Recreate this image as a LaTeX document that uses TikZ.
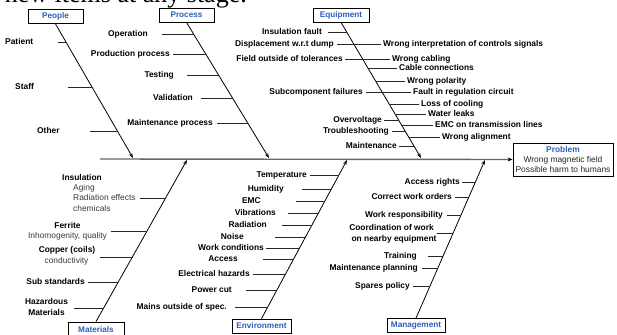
\documentclass[tikz,border=0pt]{standalone}
\usepackage{fontspec}
\setmainfont{Liberation Sans}
\newfontfamily\serifx{Liberation Serif}
\usetikzlibrary{arrows.meta,calc}
\definecolor{hdblue}{RGB}{45,95,185}
\definecolor{subgray}{RGB}{60,60,60}
\tikzset{
  lab/.style={font=\fontsize{8.4}{9.6}\selectfont\bfseries, inner sep=0pt, text=black},
  sub/.style={font=\fontsize{8.4}{10.5}\selectfont, inner sep=0pt, text=subgray},
  hdbox/.style={draw=black, line width=0.8pt, font=\fontsize{8.2}{9}\selectfont\bfseries, text=hdblue, minimum height=14pt, inner sep=0pt},
  branch/.style={draw=black, line width=0.8pt, -{Stealth[length=5pt,width=3.5pt]}},
  tick/.style={draw=black!85, line width=0.8pt},
  spine/.style={draw=black!60, line width=1.4pt, -{Stealth[length=5pt,width=4pt,color=black]}}
}
% x position of each branch line at height y
\newcommand\bPe[1]{(55.5+(#1-24)*77.5/134)}
\newcommand\bPr[1]{(186.5+(#1-22)*82.5/136)}
\newcommand\bEq[1]{(341+(#1-22)*80/136)}
\newcommand\bMa[1]{(96+(322-#1)*91/162)}
\newcommand\bEn[1]{(261.5+(319-#1)*85.5/159)}
\newcommand\bMg[1]{(416+(319-#1)*69/159)}
% cause: name, anchor, x, y, text, tick free end x, branch
\newcommand\cz[7]{%
  \node[lab,anchor=#2] (#1) at (#3,#4) {#5};
  \coordinate (#1s) at (#6,#4);
  \coordinate (#1e) at ({#7{#4}},#4);
  \draw[tick] (#1s) -- (#1e);}
\begin{document}
\begin{tikzpicture}[x=1pt,y=-1pt]
\useasboundingbox (0,0) rectangle (617,334);
\fill[white] (0,0) rectangle (617,334);
\clip (0,0) rectangle (617,334);

\node[font=\serifx\fontsize{26}{26}\selectfont, anchor=base east, inner sep=0pt] (toptext) at (247,2.5) {new items at any stage.};

% category boxes
\node[hdbox, minimum width=55pt] (people) at (55.5,16.5) {People};
\node[hdbox, minimum width=55pt] (process) at (186.5,15) {Process};
\node[hdbox, minimum width=56pt] (equipment) at (341,15) {Equipment};
\node[hdbox, minimum width=56pt, minimum height=15pt] (materials) at (96,329.5) {Materials};
\node[hdbox, minimum width=59pt] (environment) at (261.5,326) {Environment};
\node[hdbox, minimum width=58pt] (management) at (416,325.5) {Management};

\node[draw=black, line width=0.8pt, minimum width=100pt, minimum height=33pt, inner sep=0pt, align=center,
      font=\fontsize{8.4}{10.2}\selectfont, text=black!85] (problem) at (563,159.5)
  {{\bfseries\color{hdblue}Problem}\\Wrong magnetic field\\Possible harm to humans};

% spine
\coordinate (sp0) at (100,159);
\draw[spine] (sp0) -- (problem.west);

% branch tips
\coordinate (tPe) at (133,158);
\coordinate (tPr) at (269,158);
\coordinate (tEq) at (421,158);
\coordinate (tMa) at (187,160);
\coordinate (tEn) at (347,160);
\coordinate (tMg) at (485,160);
\draw[branch] (people.south) -- (tPe);
\draw[branch] (process.south) -- (tPr);
\draw[branch] (equipment.south) -- (tEq);
\draw[branch] (materials.north) -- (tMa);
\draw[branch] (environment.north) -- (tEn);
\draw[branch] (management.north) -- (tMg);

% People
\cz{patient}{mid west}{5}{42}{Patient}{58}{\bPe}
\cz{staff}{mid west}{15}{87}{Staff}{68}{\bPe}
\cz{other}{mid west}{37}{131}{Other}{90}{\bPe}

% Process
\cz{operation}{mid east}{148}{34}{Operation}{162}{\bPr}
\cz{production}{mid east}{170}{54}{Production process}{173}{\bPr}
\cz{testing}{mid east}{174}{75}{Testing}{187}{\bPr}
\cz{validation}{mid east}{193}{98}{Validation}{201}{\bPr}
\cz{maintproc}{mid east}{213}{123}{Maintenance process}{217}{\bPr}

% Equipment
\cz{insfault}{mid east}{322}{32}{Insulation fault}{328}{\bEq}
\node[lab,anchor=mid east] (displ) at (334,44) {Displacement w.r.t dump};
\node[lab,anchor=mid west] (wronginterp) at (383,44) {Wrong interpretation of controls signals};
\coordinate (displs) at (337,44); \coordinate (displt) at (381,44);
\draw[tick] (displs) -- (displt);
\node[lab,anchor=mid east] (fieldout) at (343,59) {Field outside of tolerances};
\node[lab,anchor=mid west] (wrongcab) at (392,59) {Wrong cabling};
\coordinate (fields) at (345,59); \coordinate (fieldt) at (390,59);
\draw[tick] (fields) -- (fieldt);
\cz{cableconn}{mid west}{399}{68}{Cable connections}{397}{\bEq}
\cz{wrongpol}{mid west}{407}{81}{Wrong polarity}{405}{\bEq}
\node[lab,anchor=mid east] (subcomp) at (363,92) {Subcomponent failures};
\node[lab,anchor=mid west] (faultreg) at (413,92) {Fault in regulation circuit};
\coordinate (subs) at (366,92); \coordinate (subt) at (411,92);
\draw[tick] (subs) -- (subt);
\cz{losscool}{mid west}{421}{104}{Loss of cooling}{419}{\bEq}
\cz{waterleak}{mid west}{428}{114}{Water leaks}{426}{\bEq}
\cz{overvolt}{mid east}{382}{120}{Overvoltage}{384}{\bEq}
\cz{emctl}{mid west}{435}{125}{EMC on transmission lines}{433}{\bEq}
\cz{trouble}{mid east}{389}{131}{Troubleshooting}{392}{\bEq}
\cz{wrongalign}{mid west}{442}{137}{Wrong alignment}{440}{\bEq}
\cz{maint}{mid east}{397}{146}{Maintenance}{399}{\bEq}

% Materials
\node[lab,anchor=mid] (insul) at (82,178) {Insulation};
\node[sub,anchor=mid west] (aging) at (73,188) {Aging};
\node[sub,anchor=mid west] (radeff) at (73,198) {Radiation effects};
\node[sub,anchor=mid west] (chem) at (73,209) {chemicals};
\coordinate (insuls) at (140,198); \coordinate (insule) at ({\bMa{198}},198);
\draw[tick] (insuls) -- (insule);
\node[lab,anchor=mid] (ferrite) at (67.5,226) {Ferrite};
\node[sub,anchor=mid] (inhom) at (67.5,236) {Inhomogenity, quality};
\coordinate (ferrs) at (111,231); \coordinate (ferre) at ({\bMa{231}},231);
\draw[tick] (ferrs) -- (ferre);
\node[lab,anchor=mid] (copper) at (67,250) {Copper (coils)};
\node[sub,anchor=mid] (conduct) at (66.5,261) {conductivity};
\coordinate (cops) at (100,257); \coordinate (cope) at ({\bMa{257}},257);
\draw[tick] (cops) -- (cope);
\cz{substd}{mid east}{85}{282}{Sub standards}{88}{\bMa}
\node[lab,anchor=mid] (hazard) at (46.5,302) {Hazardous};
\node[lab,anchor=mid] (hazmat) at (46.5,313) {Materials};
\coordinate (hazs) at (74,308); \coordinate (haze) at ({\bMa{308}},308);
\draw[tick] (hazs) -- (haze);

% Environment
\cz{temp}{mid east}{307}{175}{Temperature}{310}{\bEn}
\cz{humid}{mid east}{284}{189}{Humidity}{302}{\bEn}
\cz{emc}{mid east}{261}{201}{EMC}{296}{\bEn}
\cz{vibr}{mid east}{276}{213}{Vibrations}{288}{\bEn}
\cz{radia}{mid east}{267}{225}{Radiation}{282}{\bEn}
\cz{noise}{mid east}{244}{237}{Noise}{275}{\bEn}
\cz{workcond}{mid east}{264}{248}{Work conditions}{266}{\bEn}
\cz{access}{mid east}{238}{259}{Access}{263}{\bEn}
\cz{elhaz}{mid east}{250}{274}{Electrical hazards}{253}{\bEn}
\cz{powercut}{mid east}{232}{290}{Power cut}{246}{\bEn}
\cz{mains}{mid east}{227}{307}{Mains outside of spec.}{235}{\bEn}

% Management
\cz{accrights}{mid east}{460}{182}{Access rights}{462}{\bMg}
\cz{corrwork}{mid east}{452}{197}{Correct work orders}{455}{\bMg}
\cz{workresp}{mid east}{443}{215}{Work responsibility}{447}{\bMg}
\node[lab,anchor=mid] (coord1) at (391.5,228) {Coordination of work};
\node[lab,anchor=mid] (coord2) at (394,239) {on nearby equipment};
\coordinate (coords) at (437,233); \coordinate (coorde) at ({\bMg{233}},233);
\draw[tick] (coords) -- (coorde);
\cz{training}{mid east}{417}{256}{Training}{428}{\bMg}
\cz{maintplan}{mid east}{418}{268}{Maintenance planning}{422}{\bMg}
\cz{spares}{mid east}{410}{286}{Spares policy}{413}{\bMg}
\end{tikzpicture}
\end{document}
